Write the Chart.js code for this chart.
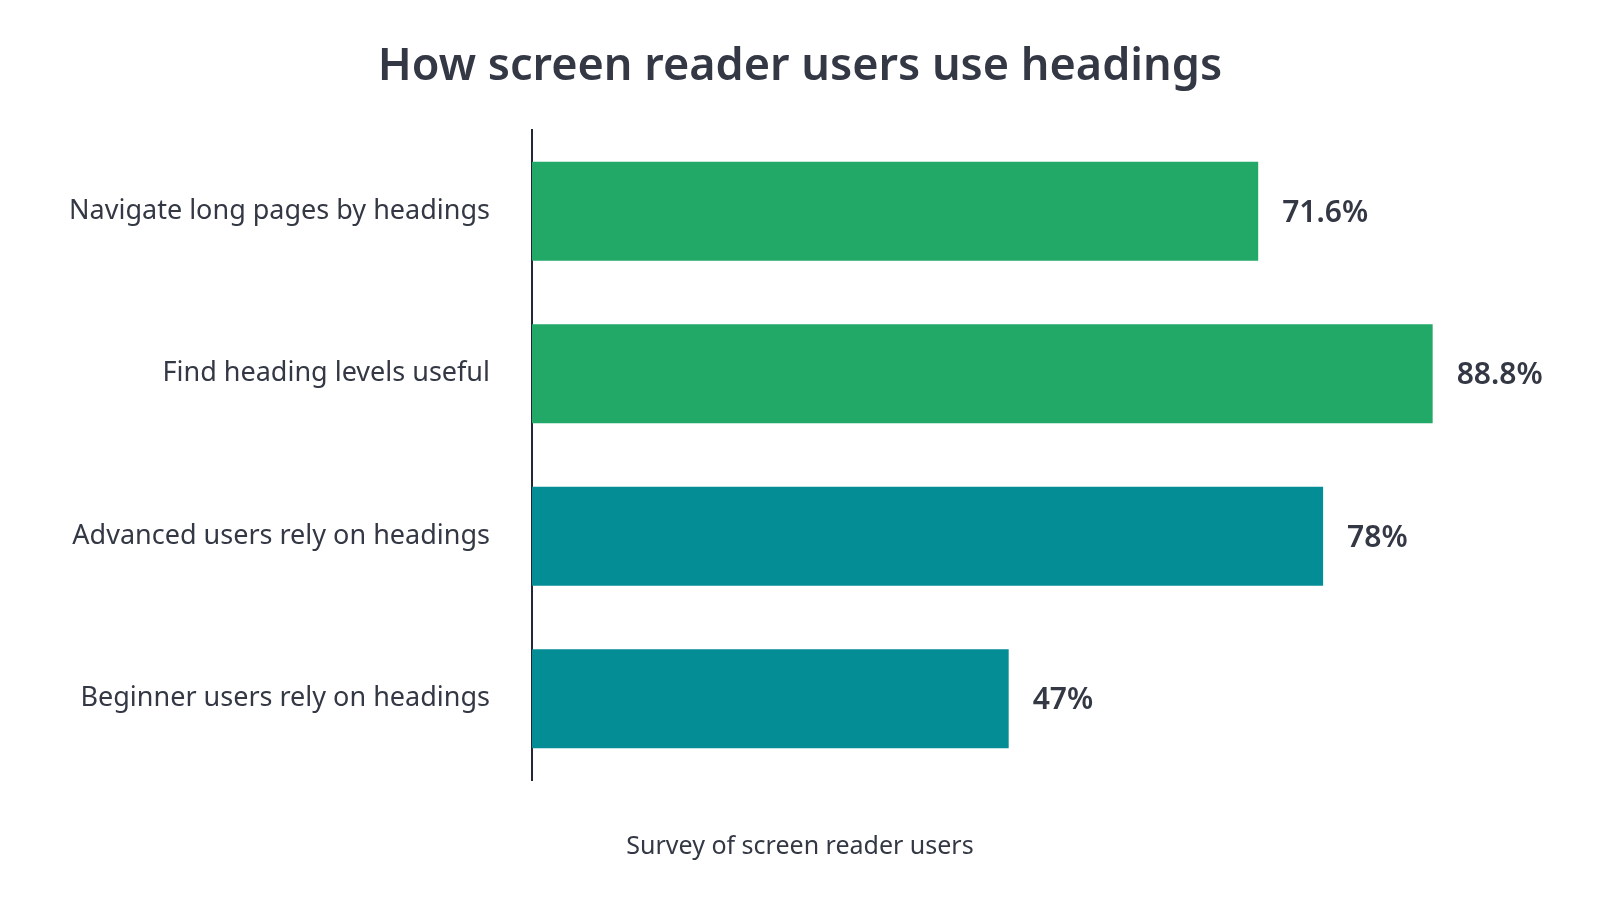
<!DOCTYPE html>
<html><head><meta charset="utf-8">
<script src="https://cdn.jsdelivr.net/npm/chart.js@4.4.0/dist/chart.umd.min.js"></script>
<style>html,body{margin:0;background:#fff}#w{width:1600px;height:900px}</style>
</head><body><div id="w"><canvas id="c"></canvas></div>
<script>
const categories=["Navigate long pages by headings","Find heading levels useful","Advanced users rely on headings","Beginner users rely on headings"];
const values=[71.6,88.8,78,47];
const valueLabels=["71.6%","88.8%","78%","47%"];
const barColors=["#22a867","#22a867","#058d96","#058d96"];
const labelPlugin={id:'vl',afterDatasetsDraw(ch){const ctx=ch.ctx;const m=ch.getDatasetMeta(0);ctx.save();ctx.font='600 30px "Noto Sans"';ctx.fillStyle='#333844';ctx.textBaseline='middle';m.data.forEach((b,i)=>{ctx.fillText(valueLabels[i],b.x+24,b.y+2);});ctx.restore();}};
new Chart(document.getElementById('c'),{type:'bar',
data:{labels:categories,datasets:[{data:values,backgroundColor:barColors,categoryPercentage:0.61,barPercentage:1}]},
options:{indexAxis:'y',responsive:true,maintainAspectRatio:false,animation:false,
layout:{padding:0},
plugins:{legend:{display:false},tooltip:{enabled:false},
title:{display:true,text:'How screen reader users use headings',font:{family:'Noto Sans',size:45,weight:'600'},color:'#333844',padding:{top:40,bottom:36}},
subtitle:{display:true,position:'bottom',text:'Survey of screen reader users',font:{family:'Noto Sans',size:25},color:'#333844',padding:{top:52,bottom:38}}},
scales:{x:{display:false,min:0,max:105.3},
y:{grid:{display:false},border:{display:true,color:'#222733',width:2},
ticks:{font:{family:'Noto Sans',size:27},color:'#333844',padding:34},
afterFit(s){s.width=532;}}}},
plugins:[labelPlugin]});
</script></body></html>
